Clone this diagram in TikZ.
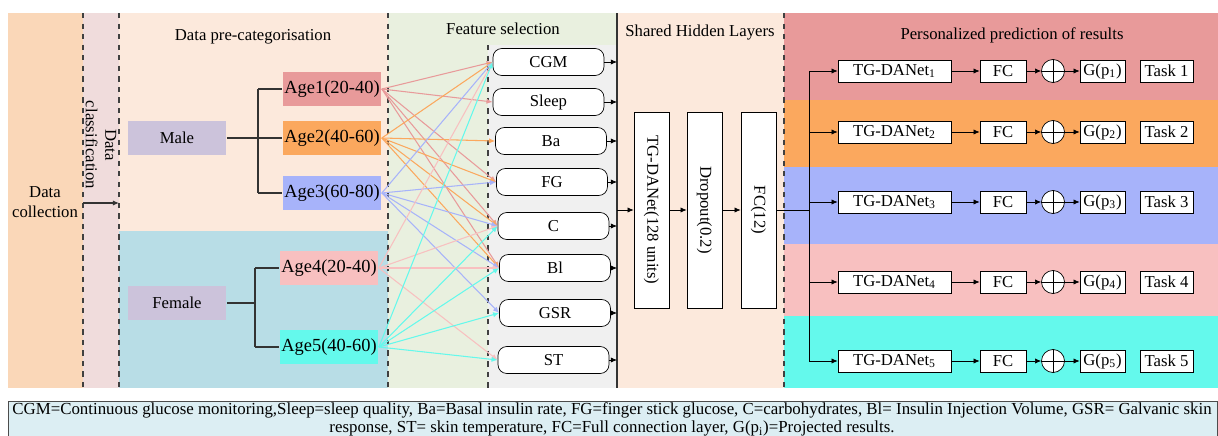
\documentclass[tikz,border=0pt]{standalone}
\usepackage{fontspec}
\setmainfont{Liberation Serif}
\usetikzlibrary{arrows.meta}
\definecolor{collectpeach}{RGB}{250,215,184}
\definecolor{classpink}{RGB}{240,220,220}
\definecolor{lightpeach}{RGB}{252,233,220}
\definecolor{lightblue}{RGB}{184,221,230}
\definecolor{lightgreen}{RGB}{233,240,223}
\definecolor{lightgray}{RGB}{240,240,240}
\definecolor{sexlilac}{RGB}{204,195,219}
\definecolor{agered}{RGB}{232,154,154}
\definecolor{ageorange}{RGB}{251,168,94}
\definecolor{ageblue}{RGB}{167,179,250}
\definecolor{agepink}{RGB}{248,192,192}
\definecolor{agecyan}{RGB}{100,249,236}
\definecolor{legendblue}{RGB}{220,238,243}
\tikzset{
    basefont/.style={font=\fontsize{9.5}{11}\selectfont},
    agebox/.style={fill=#1, minimum width=1.98cm, minimum height=0.69cm, inner xsep=1pt, font=\fontsize{10.5}{12}\selectfont},
    sexbox/.style={fill=sexlilac, minimum width=1.98cm, minimum height=0.69cm, basefont},
    featbox/.style={draw, rounded corners=5pt, fill=white, minimum width=2.22cm, minimum height=0.54cm, basefont},
    layerbox/.style={draw, fill=white, minimum width=3.92cm, minimum height=0.7cm, rotate=-90, basefont},
    taskbox/.style={draw, fill=white, minimum height=0.44cm, inner sep=1pt, basefont},
    sumnode/.style={draw, circle, fill=white, minimum size=0.46cm, inner sep=0pt},
    arr/.style={-{Latex[length=3.5pt,width=3pt]}},
    dashline/.style={dashed, black!75, thick}
}

\begin{document}
\begin{tikzpicture}[x=0.02cm, y=-0.02cm]
    \useasboundingbox (0,0) rectangle (1218,436);
    % background regions
    \fill[collectpeach] (8,13) rectangle (83,388);
    \fill[classpink] (83,13) rectangle (119,388);
    \fill[lightpeach] (119,13) rectangle (388,231);
    \fill[lightblue] (119,231) rectangle (388,388);
    \fill[lightgreen] (388,13) rectangle (617,388);
    \fill[lightgray] (488,45) rectangle (617,388);
    \fill[lightpeach] (617,13) rectangle (784,388);
    \fill[agered] (784,13) rectangle (1218,100);
    \fill[ageorange] (784,100) rectangle (1218,167);
    \fill[ageblue] (784,167) rectangle (1218,244);
    \fill[agepink] (784,244) rectangle (1218,316);
    \fill[agecyan] (784,316) rectangle (1218,388);
    \draw[dashline] (83,13) -- (83,388);
    \draw[dashline] (119,13) -- (119,388);
    \draw[dashline] (388,13) -- (388,388);
    \draw[dashline] (488,45) -- (488,388);
    \draw[dashline] (784,13) -- (784,388);
    \draw[thick, black!80] (617,13) -- (617,388);

    % titles
    \node[basefont] (t1) at (253,37) {Data pre-categorisation};
    \node[basefont] (t2) at (503,29) {Feature selection};
    \node[basefont] (t3) at (700,33) {Shared Hidden Layers};
    \node[basefont] (t4) at (1012,35) {Personalized prediction of results};

    % data collection and classification
    \node[basefont, align=center] (collect) at (45,202) {Data\\collection};
    \node[basefont, align=center, rotate=-90] (classify) at (101,145) {Data\\classification};
    \coordinate (cstart) at (83,203);
    \coordinate (cend) at (119,203);
    \draw[arr, thick, black!80] (cstart) -- (cend);

    % sex and age groups
    \node[sexbox] (male) at (177,138) {Male};
    \node[sexbox] (female) at (177,303) {Female};
    \node[agebox=agered] (age1) at (332,89) {Age1(20-40)};
    \node[agebox=ageorange] (age2) at (332,138) {Age2(40-60)};
    \node[agebox=ageblue] (age3) at (332,193) {Age3(60-80)};
    \node[agebox=agepink] (age4) at (329,268) {Age4(20-40)};
    \node[agebox=agecyan] (age5) at (329,347) {Age5(40-60)};
    \coordinate (mfork) at (258,138);
    \coordinate (ffork) at (255,303);
    \draw[thick, black!80] (male) -- (mfork);
    \draw[thick, black!80] (mfork |- age1) -- (mfork |- age3);
    \foreach \a in {age1,age2,age3}
        \draw[thick, black!80] (mfork |- \a) -- (\a.west);
    \draw[thick, black!80] (female) -- (ffork);
    \draw[thick, black!80] (ffork |- age4) -- (ffork |- age5);
    \foreach \a in {age4,age5}
        \draw[thick, black!80] (ffork |- \a) -- (\a.west);

    % features
    \node[featbox] (cgm) at (548.5,62) {CGM};
    \node[featbox] (sleep) at (548.5,102) {Sleep};
    \node[featbox] (ba) at (551,141) {Ba};
    \node[featbox] (fg) at (552,182) {FG};
    \node[featbox] (c) at (553.5,226) {C};
    \node[featbox] (bl) at (555,268) {Bl};
    \node[featbox] (gsr) at (555,313) {GSR};
    \node[featbox] (st) at (553.5,360) {ST};
    \foreach \a/\f/\c in {age1/cgm/agered, age1/sleep/agered, age1/fg/agered, age1/c/agered, age1/bl/agered,
                          age2/cgm/ageorange, age2/ba/ageorange, age2/fg/ageorange, age2/c/ageorange, age2/bl/ageorange,
                          age3/cgm/ageblue, age3/fg/ageblue, age3/c/ageblue, age3/bl/ageblue, age3/gsr/ageblue,
                          age4/cgm/agepink, age4/c/agepink, age4/bl/agepink, age4/st/agepink,
                          age5/cgm/agecyan, age5/c/agecyan, age5/bl/agecyan, age5/gsr/agecyan, age5/st/agecyan}
        \draw[arr, \c, line width=0.6pt] (\a.east) -- (\f.west);
    \coordinate (hid) at (617,210);
    \foreach \f in {cgm,sleep,ba,fg,c,bl,gsr,st}
        \draw[arr] (\f.east) -- (\f.east -| hid);

    % shared hidden layers
    \node[layerbox] (tgnet) at (651.5,210) {TG-DANet(128 units)};
    \node[layerbox] (drop) at (704.5,210) {Dropout(0.2)};
    \node[layerbox] (fc12) at (758.5,210) {FC(12)};
    \draw[arr] (hid) -- (tgnet);
    \draw[arr] (tgnet) -- (drop);
    \draw[arr] (drop) -- (fc12);

    % personalized prediction
    \coordinate (bus) at (809,210);
    \foreach \i/\y in {1/71,2/132,3/202,4/282,5/361} {
        \node[taskbox, minimum width=2.26cm] (tg\i) at (894.5,\y) {TG-DANet\textsubscript{\i}};
        \node[taskbox, minimum width=0.92cm] (fc\i) at (1003,\y) {FC};
        \node[sumnode] (sum\i) at (1053,\y) {};
        \draw (sum\i.north) -- (sum\i.south);
        \draw (sum\i.west) -- (sum\i.east);
        \node[taskbox, minimum width=0.9cm] (g\i) at (1102.5,\y) {G(p\textsubscript{\i})};
        \node[taskbox, minimum width=1.06cm] (task\i) at (1166.5,\y) {Task \i};
        \draw[arr] (bus |- tg\i) -- (tg\i);
        \draw[arr] (tg\i) -- (fc\i);
        \draw[arr] (fc\i) -- (sum\i);
        \draw[arr] (sum\i) -- (g\i);
    }
    \draw (fc12) -- (bus);
    \draw (bus |- tg1) -- (bus |- tg5);

    % legend
    \draw[black!70, fill=legendblue] (8,401) rectangle (1217,460);
    \node[font=\fontsize{9.6}{10.6}\selectfont, align=center] (legend) at (612,419.5)
        {CGM=Continuous glucose monitoring,Sleep=sleep quality, Ba=Basal insulin rate, FG=finger stick glucose, C=carbohydrates, Bl= Insulin Injection Volume, GSR= Galvanic skin\\
         response, ST= skin temperature, FC=Full connection layer, G(p\textsubscript{i})=Projected results.};
\end{tikzpicture}
\end{document}
